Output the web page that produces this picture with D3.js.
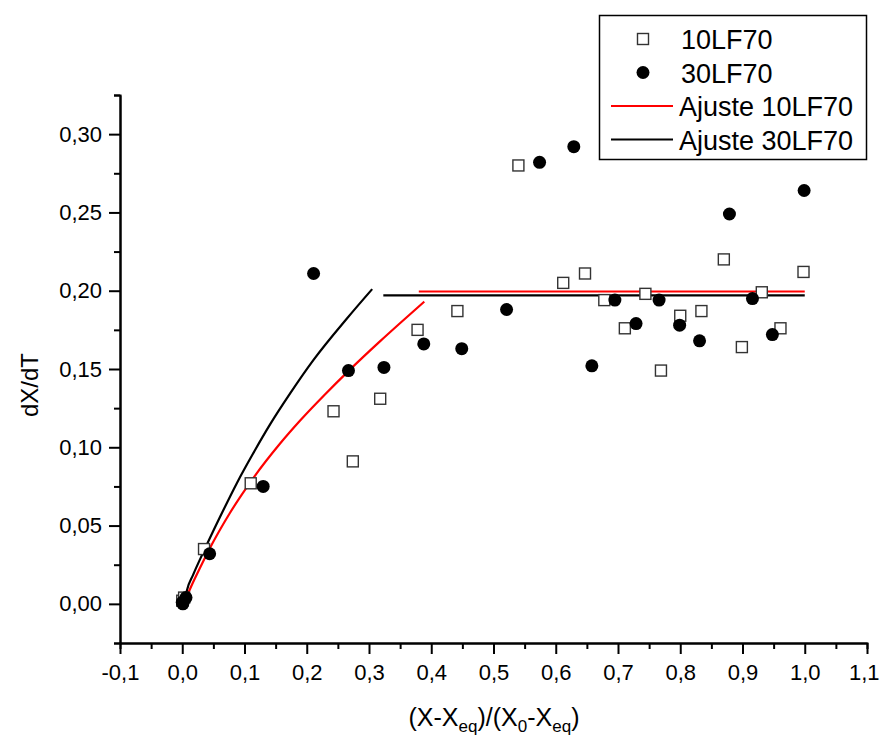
<!DOCTYPE html>
<html>
<head>
<meta charset="utf-8">
<script src="https://cdn.jsdelivr.net/npm/d3@7"></script>
<style>
  html, body { margin: 0; padding: 0; background: #fff; }
  svg { display: block; font-family: "Liberation Sans", Arial, sans-serif; }
</style>
</head>
<body>
<svg id="chart" width="880" height="738"></svg>
<script>
// ---- data ----
const xMajorTicks = [-0.1, 0.0, 0.1, 0.2, 0.3, 0.4, 0.5, 0.6, 0.7, 0.8, 0.9, 1.0, 1.1];
const yMajorTicks = [0.00, 0.05, 0.10, 0.15, 0.20, 0.25, 0.30];
const xMinorTicks = [-0.05, 0.05, 0.15, 0.25, 0.35, 0.45, 0.55, 0.65, 0.75, 0.85, 0.95, 1.05];
const yMinorTicks = [-0.025, 0.025, 0.075, 0.125, 0.175, 0.225, 0.275, 0.325];

// 10LF70 (open squares)
const s10x = [0.000, 0.003, 0.035, 0.110, 0.243, 0.274, 0.318, 0.378, 0.442, 0.540, 0.612, 0.647, 0.678, 0.711, 0.744, 0.769, 0.800, 0.834, 0.870, 0.899, 0.931, 0.961, 0.998];
const s10y = [0.002, 0.004, 0.035, 0.077, 0.123, 0.091, 0.131, 0.175, 0.187, 0.280, 0.205, 0.211, 0.194, 0.176, 0.198, 0.149, 0.184, 0.187, 0.220, 0.164, 0.199, 0.176, 0.212];

// 30LF70 (filled circles)
const s30x = [0.000, 0.001, 0.006, 0.044, 0.130, 0.211, 0.267, 0.324, 0.388, 0.449, 0.521, 0.574, 0.629, 0.658, 0.695, 0.729, 0.766, 0.799, 0.831, 0.879, 0.916, 0.948, 0.999];
const s30y = [0.001, 0.000, 0.004, 0.032, 0.075, 0.211, 0.149, 0.151, 0.166, 0.163, 0.188, 0.282, 0.292, 0.152, 0.194, 0.179, 0.194, 0.178, 0.168, 0.249, 0.195, 0.172, 0.264];

// Ajuste 10LF70 (red) : rising part and plateau
const fit10x = [0.0061, 0.0125, 0.0286, 0.0447, 0.0768, 0.1138, 0.1572, 0.1894, 0.2296, 0.2665, 0.3180, 0.3502, 0.3888];
const fit10y = [0.0038, 0.0095, 0.0230, 0.0358, 0.0582, 0.0802, 0.1024, 0.1171, 0.1339, 0.1485, 0.1678, 0.1794, 0.1930];
const plat10x = [0.380, 1.0];
const plat10y = [0.1995, 0.1995];

// Ajuste 30LF70 (black) : rising part and plateau
const fit30x = [0.0045, 0.0077, 0.0174, 0.0334, 0.0608, 0.0881, 0.1138, 0.1411, 0.1733, 0.2103, 0.2649, 0.3051];
const fit30y = [0.0030, 0.0089, 0.0185, 0.0326, 0.0556, 0.0774, 0.0960, 0.1146, 0.1344, 0.1555, 0.1824, 0.2010];
const plat30x = [0.323, 1.0];
const plat30y = [0.197, 0.197];

const legendLabels = ["10LF70", "30LF70", "Ajuste 10LF70", "Ajuste 30LF70"];

// ---- chart ----
const svg = d3.select("#chart");
const x = d3.scaleLinear().domain([-0.1, 1.1]).range([120, 867]);
const y = d3.scaleLinear().domain([-0.025, 0.325]).range([643, 95]);

const loc = d3.formatLocale({decimal: ",", thousands: ".", grouping: [3], currency: ["", ""], minus: "-"});
const fx = loc.format(".1f");
const fy = loc.format(".2f");

function styleAxis(g) {
  g.select(".domain").attr("stroke", "#000").attr("stroke-width", 2);
  g.selectAll(".tick line").attr("stroke", "#000").attr("stroke-width", 2);
  g.selectAll(".tick text").attr("fill", "#000").style("font-size", "22px")
    .style("font-family", "'Liberation Sans', Arial, sans-serif");
}

// minor ticks
svg.append("g").attr("transform", "translate(0,643)")
  .call(d3.axisBottom(x).tickValues(xMinorTicks).tickSize(6).tickFormat(""))
  .call(styleAxis);
svg.append("g").attr("transform", "translate(120,0)")
  .call(d3.axisLeft(y).tickValues(yMinorTicks).tickSize(6).tickFormat(""))
  .call(styleAxis);

// major ticks
const gx = svg.append("g").attr("transform", "translate(0,643)")
  .call(d3.axisBottom(x).tickValues(xMajorTicks).tickSize(11).tickSizeOuter(0).tickPadding(10).tickFormat(fx))
  .call(styleAxis);
// keep the last label inside the picture
gx.selectAll(".tick text").filter(d => d === 1.1).attr("text-anchor", "end").attr("dx", 12);

const gy = svg.append("g").attr("transform", "translate(120,0)")
  .call(d3.axisLeft(y).tickValues(yMajorTicks).tickSize(11).tickSizeOuter(0).tickPadding(7).tickFormat(fy))
  .call(styleAxis);

// axis titles
svg.append("text")
  .attr("transform", "translate(38,385) rotate(-90)")
  .attr("text-anchor", "middle")
  .style("font-size", "24px")
  .text("dX/dT");

const xt = svg.append("text")
  .attr("x", 494).attr("y", 726)
  .attr("text-anchor", "middle")
  .style("font-size", "25px");
const parts = [["(X-X", 0], ["eq", 1], [")/(X", 0], ["0", 1], ["-X", 0], ["eq", 1], [")", 0]];
parts.forEach(([t, sub], i) => {
  const ts = xt.append("tspan").text(t);
  if (sub) ts.style("font-size", "17px").attr("dy", 6);
  else if (i > 0) ts.attr("dy", -6);
});

// fit lines
const line = d3.line().x(d => x(d[0])).y(d => y(d[1])).curve(d3.curveMonotoneX);
const zip = (a, b) => a.map((v, i) => [v, b[i]]);

const plot = svg.append("g");
plot.append("path").datum(zip(fit30x, fit30y)).attr("d", line)
  .attr("fill", "none").attr("stroke", "#000").attr("stroke-width", 2.2);
plot.append("path").datum(zip(plat30x, plat30y)).attr("d", line)
  .attr("fill", "none").attr("stroke", "#000").attr("stroke-width", 2.2);
plot.append("path").datum(zip(fit10x, fit10y)).attr("d", line)
  .attr("fill", "none").attr("stroke", "#ff0000").attr("stroke-width", 2.2);
plot.append("path").datum(zip(plat10x, plat10y)).attr("d", line)
  .attr("fill", "none").attr("stroke", "#ff0000").attr("stroke-width", 2.2);

// squares
const sq = 11;
plot.selectAll("rect.s10").data(zip(s10x, s10y)).enter().append("rect")
  .attr("class", "s10")
  .attr("x", d => x(d[0]) - sq / 2).attr("y", d => y(d[1]) - sq / 2)
  .attr("width", sq).attr("height", sq)
  .attr("fill", "#fff").attr("stroke", "#333").attr("stroke-width", 1.4);

// circles
plot.selectAll("circle.s30").data(zip(s30x, s30y)).enter().append("circle")
  .attr("class", "s30")
  .attr("cx", d => x(d[0])).attr("cy", d => y(d[1])).attr("r", 6.5)
  .attr("fill", "#000");

// legend
const lg = svg.append("g");
lg.append("rect").attr("x", 599.5).attr("y", 15.5).attr("width", 267).attr("height", 144)
  .attr("fill", "#fff").attr("stroke", "#000").attr("stroke-width", 1.5);
const rowY = [39, 72.5, 106, 139.5];
lg.append("rect").attr("x", 643 - sq / 2).attr("y", rowY[0] - sq / 2).attr("width", sq).attr("height", sq)
  .attr("fill", "#fff").attr("stroke", "#333").attr("stroke-width", 1.4);
lg.append("circle").attr("cx", 643).attr("cy", rowY[1]).attr("r", 6.5).attr("fill", "#000");
lg.append("line").attr("x1", 611).attr("x2", 673).attr("y1", rowY[2]).attr("y2", rowY[2])
  .attr("stroke", "#ff0000").attr("stroke-width", 2.2);
lg.append("line").attr("x1", 611).attr("x2", 673).attr("y1", rowY[3]).attr("y2", rowY[3])
  .attr("stroke", "#000").attr("stroke-width", 2.2);
legendLabels.forEach((t, i) => {
  lg.append("text").attr("x", i < 2 ? 681 : 679).attr("y", rowY[i] + 10)
    .style("font-size", "27px").attr("fill", "#000").text(t);
});
</script>
</body>
</html>
